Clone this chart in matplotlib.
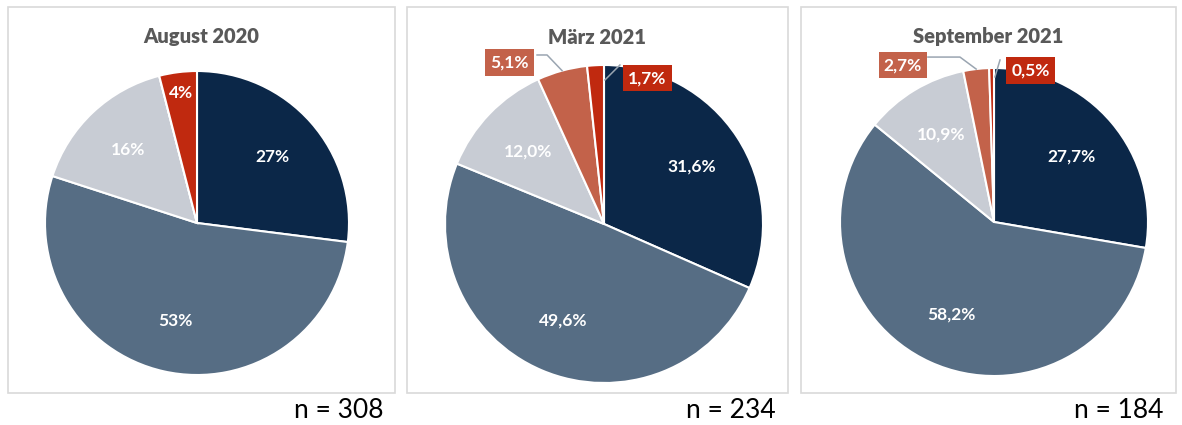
import numpy as np
import matplotlib
matplotlib.use("Agg")
import matplotlib.pyplot as plt
from matplotlib.patches import Rectangle

# data
PANEL_TITLES = ["August 2020", "März 2021", "September 2021"]
N_VALUES = [308, 234, 184]
CATEGORIES = ["Kategorie 1", "Kategorie 2", "Kategorie 3", "Kategorie 4", "Kategorie 5"]
AUG_2020 = [27, 53, 16, 0, 4]
MAERZ_2021 = [31.6, 49.6, 12.0, 5.1, 1.7]
SEP_2021 = [27.7, 58.2, 10.9, 2.7, 0.5]
DECIMALS = [0, 1, 1]

COLORS = ["#0b2748", "#566d84", "#c8ccd4", "#c3624a", "#c0290f"]
TITLE_COLOR = "#595959"
BORDER_COLOR = "#d9d9d9"
LEADER_COLOR = "#9aa5b1"
FONT = "Lato"

W, H = 1182, 425

# layout in pixels (from top-left): panel boxes and pie centre / radius
PANEL_BOXES = [(8, 7, 395, 393), (407, 7, 788, 393), (801, 7, 1176, 393)]
PIE_GEOM = [(197, 223, 152), (604, 224, 159), (994, 222, 154)]

# inside label placement: (angle shift from mid-angle, radial distance)
INSIDE_POS = [
    [(0, 0.66), (0, 0.66), (0, 0.66), None, (0, 0.86)],
    [(0, 0.66), (0, 0.66), (0, 0.66), None, None],
    [(0, 0.66), (0, 0.66), (0, 0.66), None, None],
]
# outside boxed labels: slice index -> (box centre, leader points) in radius units
OUTSIDE_POS = [
    {},
    {3: ((-0.594, 1.016), [(-0.421, 1.063), (-0.358, 1.063), None]),
     4: ((0.274, 0.918), [(0.10, 1.0), (0.006, 0.906)])},
    {3: ((-0.591, 1.019), [(-0.429, 1.071), (-0.221, 1.071), None]),
     4: ((0.237, 0.984), [(0.039, 1.052), (0.006, 0.942)])},
]


def fmt_pct(v, dec):
    return f"{v:.{dec}f}".replace(".", ",") + "%"


fig = plt.figure(figsize=(W / 100, H / 100), dpi=100)
fig.patch.set_facecolor("white")

all_values = [AUG_2020, MAERZ_2021, SEP_2021]

for i, values in enumerate(all_values):
    x0, y0, x1, y1 = PANEL_BOXES[i]
    fig.patches.append(Rectangle((x0 / W, 1 - y1 / H), (x1 - x0) / W, (y1 - y0) / H,
                                 transform=fig.transFigure, facecolor="none",
                                 edgecolor=BORDER_COLOR, linewidth=1.2, zorder=0))
    fig.text((x0 + x1) / 2 / W, 1 - 37 / H, PANEL_TITLES[i], ha="center", va="center",
             fontsize=14.5, fontweight="heavy", color=TITLE_COLOR, fontfamily=FONT)
    fig.text((x1 - 12) / W, 1 - 410 / H, f"n = {N_VALUES[i]}", ha="right", va="center",
             fontsize=19, color="black", fontfamily=FONT)

    cx, cy, r = PIE_GEOM[i]
    ax = fig.add_axes([(cx - r) / W, 1 - (cy + r) / H, 2 * r / W, 2 * r / H])
    wedges, _ = ax.pie(values, colors=COLORS, startangle=90, counterclock=False,
                       radius=1, wedgeprops=dict(edgecolor="white", linewidth=1.5))
    ax.set_xlim(-1, 1)
    ax.set_ylim(-1, 1)
    ax.set_aspect("equal")
    ax.axis("off")

    for j, (w, v) in enumerate(zip(wedges, values)):
        if v == 0:
            continue
        mid = np.deg2rad((w.theta1 + w.theta2) / 2)
        label = fmt_pct(v, DECIMALS[i])
        pos = INSIDE_POS[i][j]
        if pos is not None:
            ang = mid + np.deg2rad(pos[0])
            ax.text(pos[1] * np.cos(ang), pos[1] * np.sin(ang), label, ha="center",
                    va="center", fontsize=12.5, fontweight="bold", color="white",
                    fontfamily=FONT)
        elif j in OUTSIDE_POS[i]:
            (bx, by), pts = OUTSIDE_POS[i][j]
            pts = [p if p is not None else (np.cos(mid), np.sin(mid)) for p in pts]
            xs, ys = zip(*pts)
            ax.plot(xs, ys, color=LEADER_COLOR, linewidth=1.1, clip_on=False, zorder=3)
            ax.text(bx, by, label, ha="center", va="center", fontsize=12.5,
                    fontweight="bold", color="white", fontfamily=FONT, zorder=4,
                    bbox=dict(boxstyle="square,pad=0.3", facecolor=COLORS[j],
                              edgecolor="none"))

fig.savefig("out.png", dpi=100, facecolor="white")
